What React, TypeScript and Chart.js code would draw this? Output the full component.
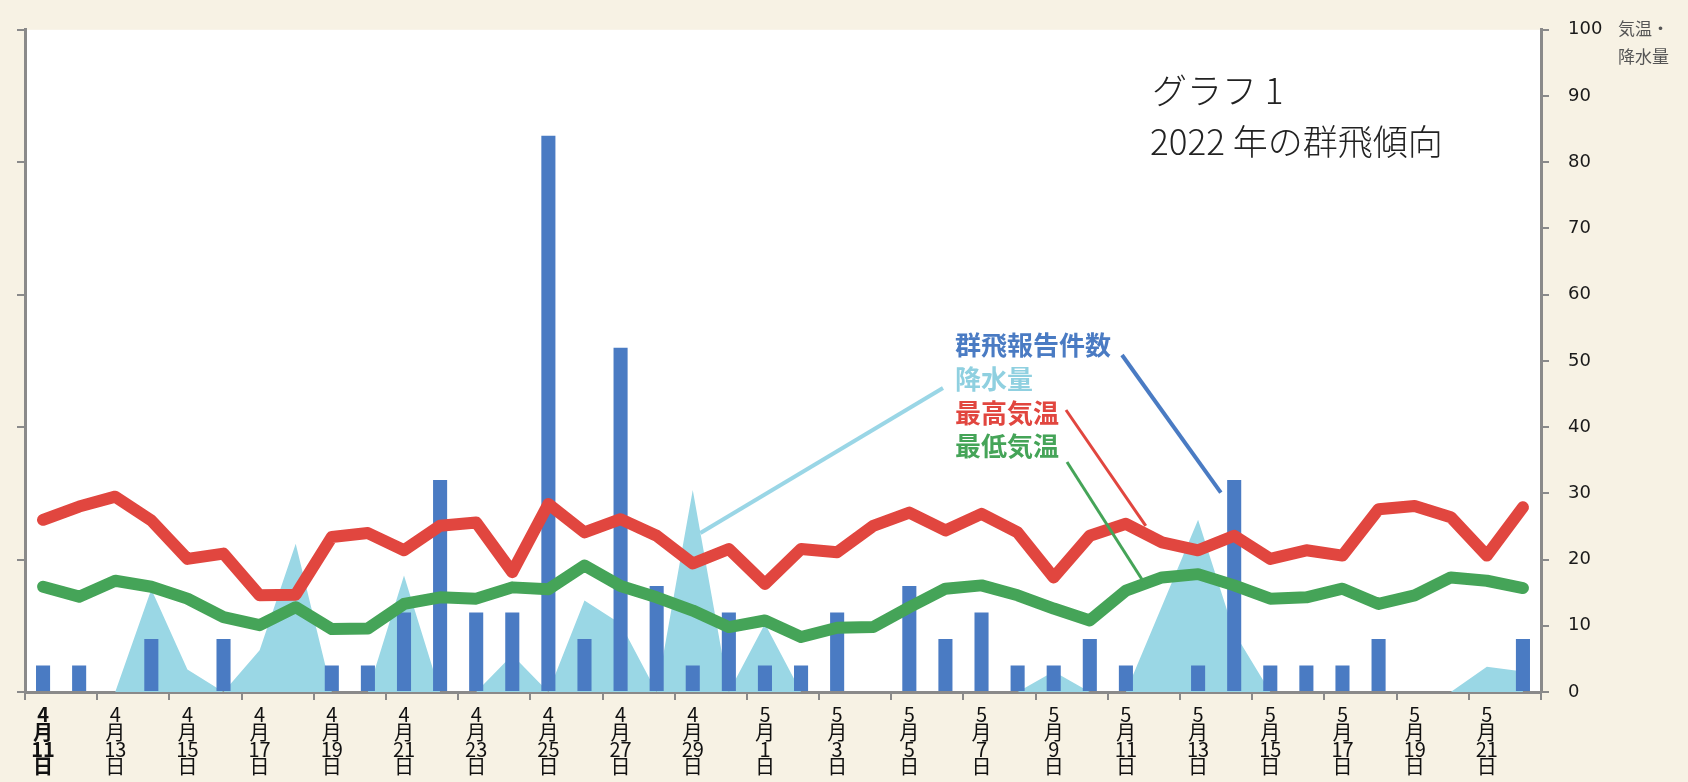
import React, { useEffect, useRef } from "react";
import { Chart, registerables } from "chart.js";

Chart.register(...registerables);

// ---- data ----
const categories: string[] = [
  "4/11", "4/12", "4/13", "4/14", "4/15", "4/16", "4/17", "4/18", "4/19", "4/20",
  "4/21", "4/22", "4/23", "4/24", "4/25", "4/26", "4/27", "4/28", "4/29", "4/30",
  "5/1", "5/2", "5/3", "5/4", "5/5", "5/6", "5/7", "5/8", "5/9", "5/10",
  "5/11", "5/12", "5/13", "5/14", "5/15", "5/16", "5/17", "5/18", "5/19", "5/20",
  "5/21", "5/22",
];

// 群飛報告件数
const swarmReports: number[] = [
  4, 4, 0, 8, 0, 8, 0, 0, 4, 4,
  12, 32, 12, 12, 84, 8, 52, 16, 4, 12,
  4, 4, 12, 0, 16, 8, 12, 4, 4, 8,
  4, 0, 4, 32, 4, 4, 4, 8, 0, 0,
  0, 8,
];

// 降水量
const precipitation: number[] = [
  0, 0, 0, 15.5, 3.4, 0, 6.3, 22.4, 0, 0,
  17.6, 0, 0, 5.6, 0, 13.8, 10.3, 0, 30.5, 0,
  10.3, 0, 0, 0, 0, 0, 0, 0, 3.1, 0,
  0, 13, 26, 9, 0, 0, 0, 0, 0, 0,
  3.8, 3.1,
];

// 最高気温
const maxTemp: number[] = [
  26, 28, 29.5, 25.9, 20.1, 20.9, 14.6, 14.7, 23.4, 24.0,
  21.4, 25.1, 25.6, 18.1, 28.4, 24.1, 26.1, 23.6, 19.4, 21.6,
  16.3, 21.6, 21.1, 25.1, 27.1, 24.4, 26.9, 24.1, 17.3, 23.6,
  25.4, 22.6, 21.4, 23.6, 20.1, 21.4, 20.6, 27.6, 28.1, 26.4,
  20.6, 27.9,
];

// 最低気温
const minTemp: number[] = [
  15.9, 14.4, 16.8, 15.9, 14.1, 11.3, 10.1, 12.8, 9.5, 9.6,
  13.3, 14.3, 14.1, 15.8, 15.5, 19.1, 16.0, 14.3, 12.3, 9.8,
  10.8, 8.3, 9.7, 9.8, 12.8, 15.6, 16.1, 14.6, 12.6, 10.8,
  15.3, 17.3, 17.8, 16.1, 14.1, 14.3, 15.6, 13.3, 14.6, 17.3,
  16.8, 15.7,
];

const seriesNames: string[] = ["群飛報告件数", "降水量", "最高気温", "最低気温"];
const titleLines: string[] = ["グラフ 1", "2022 年の群飛傾向"];
const rightAxisTitle: string[] = ["気温・", "降水量"];

// ---- styles ----
const W = 1688;
const H = 782;
const BG = "#f7f2e4";
const AXIS = "#8a8a8a";
const C_BAR = "#4a7bc3";
const C_RAIN = "#9ad7e5";
const C_RAIN_TEXT = "#8fd0e0";
const C_MAX = "#e1463f";
const C_MIN = "#45a458";
const CJK = "'Noto Sans CJK JP', 'Noto Sans', sans-serif";

// annotation layout (label anchors in px, leader targets in data space)
const legendLeft = 955;
const legendRowsY = [345, 379, 413.5, 446.5];
const legendColors = [C_BAR, C_RAIN_TEXT, C_MAX, C_MIN];
const leaderColors = [C_BAR, "#9ad6e6", C_MAX, C_MIN];
const leaderWidths = [4, 4, 3, 3];
const leaderStarts: [number, number][] = [
  [1122, 355],
  [943, 388],
  [1066, 410],
  [1067, 462],
];
const leaderTargets: [number, number][] = [
  [32.63, 30.1],
  [18.21, 24],
  [30.55, 25.1],
  [30.47, 16.8],
];

function tickLines(label: string): string[] {
  const [m, d] = label.split("/");
  return [m, "月", d, "日"];
}

const decorPlugin = {
  id: "decor",
  beforeDraw(chart: any) {
    const { ctx, chartArea } = chart;
    ctx.save();
    ctx.fillStyle = BG;
    ctx.fillRect(0, 0, chart.width, chart.height);
    ctx.fillStyle = "#ffffff";
    ctx.fillRect(chartArea.left, chartArea.top, chartArea.right - chartArea.left, chartArea.bottom - chartArea.top);
    ctx.restore();
  },
  afterDatasetsDraw(chart: any) {
    const { ctx } = chart;
    const xs = chart.scales.x;
    const ys = chart.scales.yR;
    ctx.save();
    ctx.lineCap = "butt";
    leaderStarts.forEach((s, i) => {
      const [ti, tv] = leaderTargets[i];
      const ex = xs.getPixelForValue(ti);
      const ey = ys.getPixelForValue(tv);
      ctx.strokeStyle = leaderColors[i];
      ctx.lineWidth = leaderWidths[i];
      ctx.beginPath();
      ctx.moveTo(s[0], s[1]);
      ctx.lineTo(ex, ey);
      ctx.stroke();
    });
    ctx.restore();
  },
  afterDraw(chart: any) {
    const { ctx } = chart;
    const ys = chart.scales.yR;
    ctx.save();
    ctx.textBaseline = "middle";
    ctx.textAlign = "left";
    // legend labels
    ctx.font = `bold 26px ${CJK}`;
    seriesNames.forEach((n, i) => {
      ctx.fillStyle = legendColors[i];
      ctx.fillText(n, legendLeft, legendRowsY[i]);
    });
    // title
    ctx.fillStyle = "#222222";
    ctx.font = `300 35px ${CJK}`;
    ctx.fillText(titleLines[0], 1152, 91);
    ctx.fillText(titleLines[1], 1150, 142);
    // right axis title
    ctx.fillStyle = "#555555";
    ctx.font = `17px ${CJK}`;
    const tx = ys.left + 77;
    ctx.fillText(rightAxisTitle[0], tx, 29);
    ctx.fillText(rightAxisTitle[1], tx, 57);
    ctx.restore();
  },
};

export default function App() {
  const ref = useRef<HTMLCanvasElement | null>(null);

  useEffect(() => {
    document.body.style.margin = "0";
    document.body.style.background = BG;
    const canvas = ref.current;
    if (!canvas) return;

    const chart = new Chart(canvas, {
      type: "bar",
      data: {
        labels: categories,
        datasets: [
          {
            type: "line",
            label: seriesNames[3],
            data: minTemp,
            yAxisID: "yR",
            borderColor: C_MIN,
            borderWidth: 12,
            borderJoinStyle: "round",
            borderCapStyle: "round",
            pointRadius: 0,
            tension: 0,
            fill: false,
            order: 1,
          } as any,
          {
            type: "line",
            label: seriesNames[2],
            data: maxTemp,
            yAxisID: "yR",
            borderColor: C_MAX,
            borderWidth: 12,
            borderJoinStyle: "round",
            borderCapStyle: "round",
            pointRadius: 0,
            tension: 0,
            fill: false,
            order: 0,
          } as any,
          {
            type: "bar",
            label: seriesNames[0],
            data: swarmReports,
            yAxisID: "yL",
            backgroundColor: C_BAR,
            borderWidth: 0,
            barPercentage: 0.39,
            categoryPercentage: 1,
            order: 2,
          } as any,
          {
            type: "line",
            label: seriesNames[1],
            data: precipitation,
            yAxisID: "yR",
            borderWidth: 0,
            borderColor: C_RAIN,
            backgroundColor: C_RAIN,
            pointRadius: 0,
            tension: 0,
            fill: "origin",
            order: 3,
          } as any,
        ],
      },
      options: {
        animation: false,
        responsive: false,
        devicePixelRatio: 1,
        layout: { padding: { top: 28, left: 0, right: 0, bottom: 0 } },
        plugins: {
          legend: { display: false },
          tooltip: { enabled: false },
          title: { display: false },
        },
        scales: {
          x: {
            type: "category",
            offset: true,
            grid: {
              offset: true,
              drawOnChartArea: false,
              drawTicks: true,
              tickLength: 8,
              lineWidth: 2,
              color: (c: any) =>
                c.index === undefined || c.index % 2 === 0 ? AXIS : "rgba(0,0,0,0)",
            },
            border: { color: AXIS, width: 3 },
            ticks: {
              autoSkip: false,
              maxRotation: 0,
              minRotation: 0,
              padding: 6,
              color: "#111111",
              font: (c: any) => ({
                family: "'Liberation Sans Narrow', " + CJK,
                size: 20,
                lineHeight: 0.87,
                weight: c.index === 0 ? "bold" : "normal",
              }),
              callback: (_v: any, i: number) => (i % 2 === 0 ? tickLines(categories[i]) : ""),
            },
            afterFit: (s: any) => {
              s.height = H - 692;
            },
          },
          yL: {
            type: "linear",
            position: "left",
            min: 0,
            max: 100,
            grid: {
              drawOnChartArea: false,
              drawTicks: true,
              tickLength: 8,
              lineWidth: 2,
              color: AXIS,
            },
            border: { color: AXIS, width: 3 },
            ticks: { stepSize: 20, display: false },
            afterFit: (s: any) => {
              s.width = 25;
            },
          },
          yR: {
            type: "linear",
            position: "right",
            min: 0,
            max: 100,
            grid: {
              drawOnChartArea: false,
              drawTicks: true,
              tickLength: 8,
              lineWidth: 2,
              color: AXIS,
            },
            border: { color: AXIS, width: 3 },
            ticks: {
              stepSize: 10,
              padding: 19,
              color: "#1a1a1a",
              font: { family: "'DejaVu Sans', sans-serif", size: 18 },
            },
            afterFit: (s: any) => {
              s.width = W - 1541;
            },
          },
        },
      } as any,
      plugins: [decorPlugin],
    });

    return () => {
      chart.destroy();
    };
  }, []);

  return (
    <div style={{ position: "fixed", left: 0, top: 0, width: W, height: H, background: BG }}>
      <canvas ref={ref} width={W} height={H} style={{ width: W, height: H, display: "block" }} />
    </div>
  );
}
